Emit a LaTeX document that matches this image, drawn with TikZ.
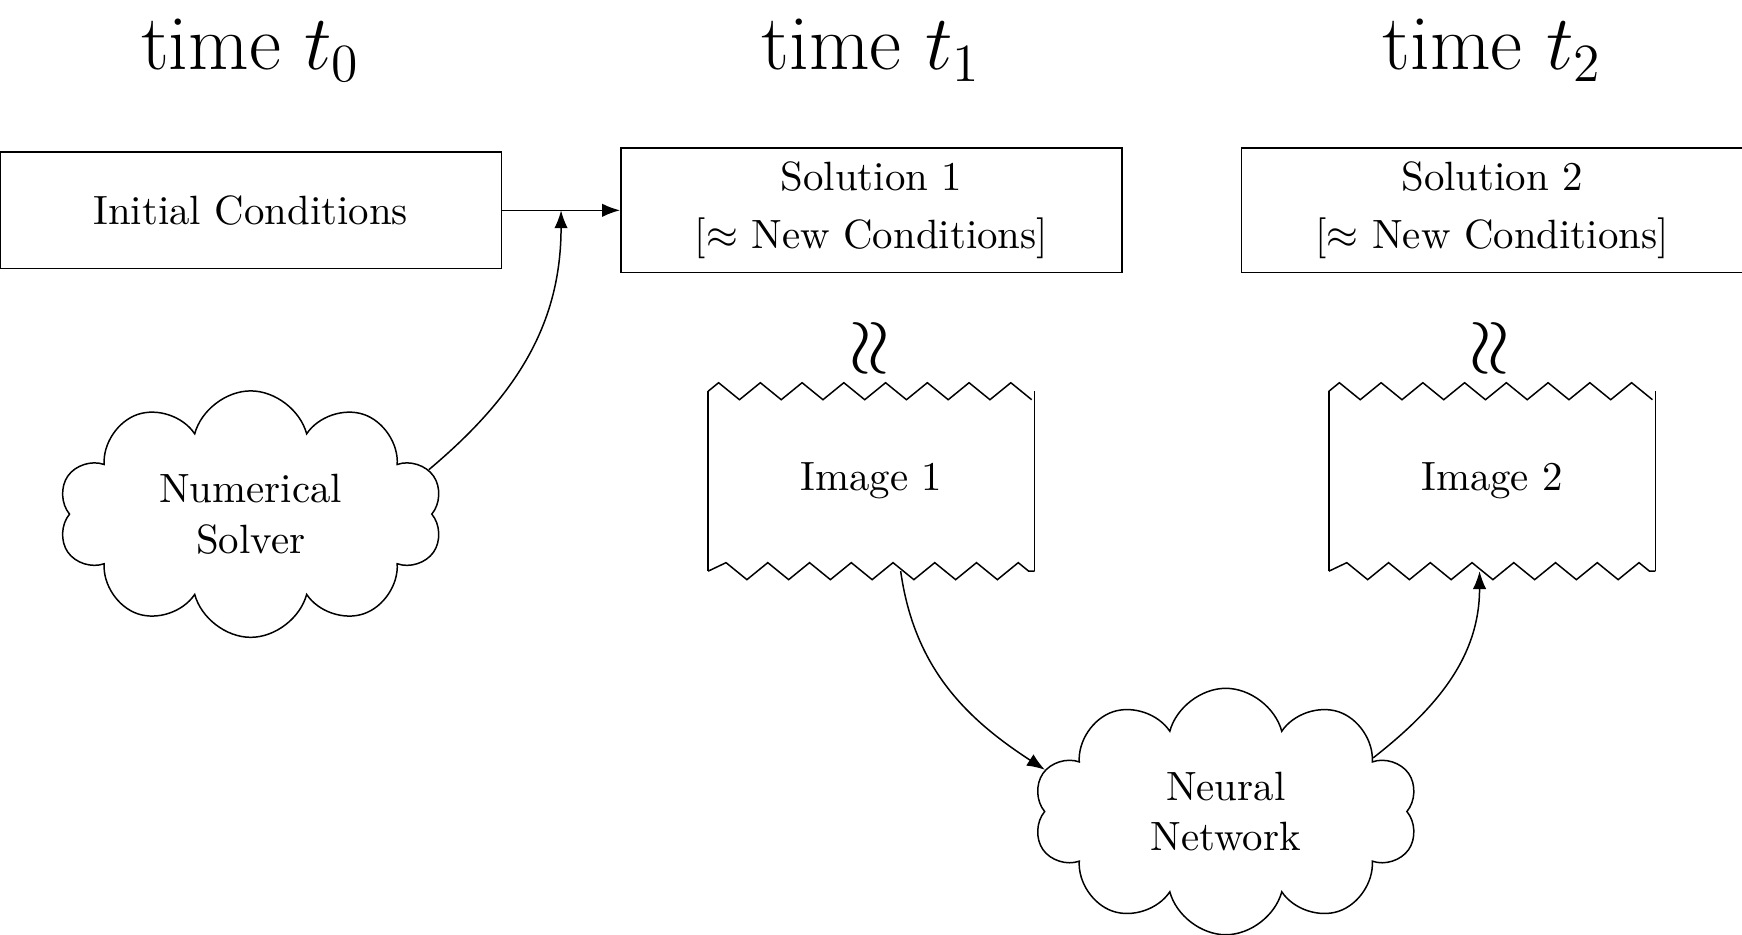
\documentclass[tikz,border=0pt,11pt]{standalone}
\usepackage{amssymb}
\usepackage{tikz}
\usetikzlibrary{arrows.meta,positioning,calc}
\usetikzlibrary{shapes.symbols,decorations.pathmorphing}

\tikzset{
	title/.style={font=\fontsize{21}{25}\selectfont},
	box/.style={draw, minimum width=4.72cm, minimum height=1.1cm, align=center},
	squiggle/.style={rotate=90, font=\huge},
	sheet/.style={minimum width=3.06cm, minimum height=1.68cm},
	torn/.style={decorate, decoration={zigzag, segment length=3.93mm, amplitude=0.8mm}},
	blob/.style={draw, cloud, cloud puffs=10, cloud ignores aspect, minimum width=3.62cm, minimum height=2.32cm, align=center}
}

\begin{document}
\begin{tikzpicture}[>={Latex}]
\useasboundingbox (0,0) rectangle (16.40,-8.80);
\node[box] (ic) at (2.36,-1.98) {Initial Conditions};
\node[box, right=1.11cm of ic] (sol1) {Solution 1\\[2pt]{[}$\approx$ New Conditions]};
\node[box, right=1.11cm of sol1] (sol2) {Solution 2\\[2pt]{[}$\approx$ New Conditions]};

\node[title] (t0) at (ic |- 0,-0.47) {time $t_0$};
\node[title] (t1) at (sol1 |- 0,-0.47) {time $t_1$};
\node[title] (t2) at (sol2 |- 0,-0.47) {time $t_2$};

\node[squiggle] (eq1) at (sol1 |- 0,-3.28) {$\approx$};
\node[squiggle] (eq2) at (sol2 |- 0,-3.28) {$\approx$};

\node[sheet] (img1) at (sol1 |- 0,-4.53) {Image 1};
\node[sheet] (img2) at (sol2 |- 0,-4.53) {Image 2};
\draw (img1.north east) -- (img1.south east) (img1.south west) -- (img1.north west);
\draw[torn] (img1.north west) -- (img1.north east) (img1.south west) -- (img1.south east);
\draw (img2.north east) -- (img2.south east) (img2.south west) -- (img2.north west);
\draw[torn] (img2.north west) -- (img2.north east) (img2.south west) -- (img2.south east);

\node[blob] (ns) at (ic |- 0,-4.84) {Numerical\\Solver};
\node[blob] (nn) at (11.54,-7.64) {Neural\\Network};

\coordinate (mid) at ($(ic.east)!0.5!(sol1.west)$);
\draw[->] (ic) -- (sol1);
\draw[->] (ns.14) to[out=40, in=-90] (mid);
\draw[->] (img1.-72) to[out=-82, in=147] (nn.167);
\draw[->] (nn.20) to[out=38, in=-90] (img2.-98);
\end{tikzpicture}
\end{document}
